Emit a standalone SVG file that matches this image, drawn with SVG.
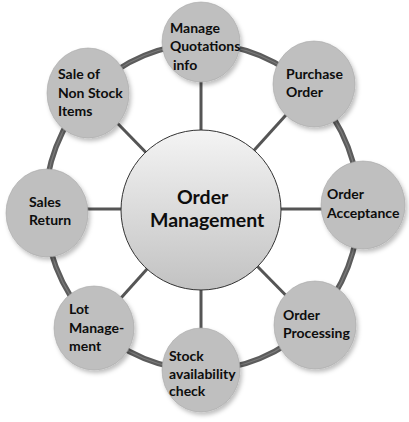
<svg xmlns="http://www.w3.org/2000/svg" width="409" height="422" viewBox="0 0 409 422">
<style>
.t{font-family:"Lato","Liberation Sans",sans-serif;font-weight:bold;font-size:14px;fill:#0d0d0d}
.tc{font-family:"Lato","Liberation Sans",sans-serif;font-weight:bold;font-size:19.5px;fill:#0d0d0d}
.node{fill:#bfbfbf;stroke:#a6a6a6;stroke-width:0.6;filter:url(#sh)}
.spoke{stroke:#555;stroke-width:3;fill:none}
.ring{stroke:#5c5c5c;stroke-width:5.5;fill:none}
</style>
<defs>
<filter id="sh" x="-30%" y="-30%" width="160%" height="160%">
<feDropShadow dx="2" dy="3" stdDeviation="2" flood-color="#000" flood-opacity="0.25"/>
</filter>
<linearGradient id="cg" x1="0" y1="0" x2="0" y2="1">
<stop offset="0" stop-color="#f4f4f4"/>
<stop offset="1" stop-color="#c2c2c2"/>
</linearGradient>
</defs>
<rect width="409" height="422" fill="#fff"/>
<g id="connectors">
<ellipse class="ring" cx="202" cy="207" rx="157" ry="163"/>
<ellipse cx="202" cy="207" rx="157" ry="163" fill="none" stroke="#7a7a7a" stroke-width="1.2"/>
<line class="spoke" x1="201" y1="209" x2="201" y2="42"/>
<line class="spoke" x1="201" y1="209" x2="314" y2="84"/>
<line class="spoke" x1="201" y1="209" x2="363" y2="209"/>
<line class="spoke" x1="201" y1="209" x2="315" y2="325"/>
<line class="spoke" x1="201" y1="209" x2="201" y2="370"/>
<line class="spoke" x1="201" y1="209" x2="94" y2="328"/>
<line class="spoke" x1="201" y1="209" x2="47" y2="209"/>
<line class="spoke" x1="201" y1="209" x2="88" y2="93"/>
</g>
<g id="center">
<circle cx="201" cy="210" r="80" fill="url(#cg)" stroke="#333" stroke-width="1"/>
<text class="tc" x="177" y="204">Order</text>
<text class="tc" x="150" y="227">Management</text>
</g>
<g id="manage-quotations">
<ellipse class="node" cx="201" cy="42" rx="39" ry="40"/>
<text class="t" x="170" y="32.5">Manage</text>
<text class="t" x="170" y="51">Quotations</text>
<text class="t" x="173" y="69.5">info</text>
</g>
<g id="purchase-order">
<ellipse class="node" cx="314" cy="84" rx="41" ry="43"/>
<text class="t" x="286" y="78.5">Purchase</text>
<text class="t" x="286" y="97">Order</text>
</g>
<g id="order-acceptance">
<ellipse class="node" cx="363" cy="205" rx="42" ry="44"/>
<text class="t" x="327" y="199">Order</text>
<text class="t" x="327" y="217.5">Acceptance</text>
</g>
<g id="order-processing">
<ellipse class="node" cx="315" cy="325" rx="41" ry="44"/>
<text class="t" x="283" y="320">Order</text>
<text class="t" x="283" y="338">Processing</text>
</g>
<g id="stock-availability">
<ellipse class="node" cx="201" cy="370" rx="39" ry="42"/>
<text class="t" x="169" y="360.5">Stock</text>
<text class="t" x="169" y="378.5">availability</text>
<text class="t" x="169" y="396">check</text>
</g>
<g id="lot-management">
<ellipse class="node" cx="94" cy="328" rx="40" ry="42"/>
<text class="t" x="69" y="313.5">Lot</text>
<text class="t" x="69" y="332.5">Manage-</text>
<text class="t" x="69" y="351">ment</text>
</g>
<g id="sales-return">
<ellipse class="node" cx="47" cy="213" rx="41" ry="44"/>
<text class="t" x="29" y="207">Sales</text>
<text class="t" x="29" y="225">Return</text>
</g>
<g id="sale-non-stock">
<ellipse class="node" cx="88" cy="93" rx="41" ry="45"/>
<text class="t" x="58" y="79">Sale of</text>
<text class="t" x="58" y="97.5">Non Stock</text>
<text class="t" x="58" y="116">Items</text>
</g>
</svg>
